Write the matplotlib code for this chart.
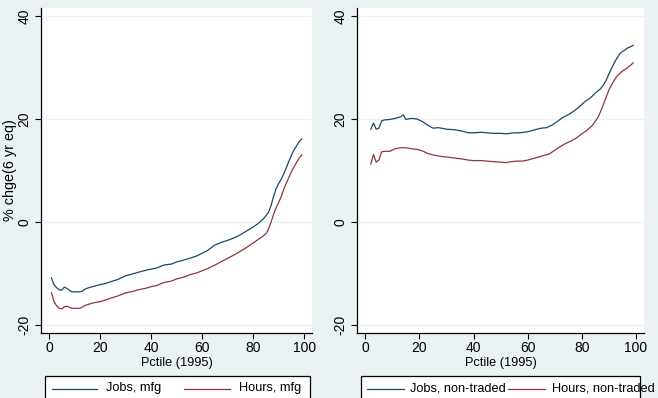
import matplotlib
matplotlib.use("Agg")
import matplotlib.pyplot as plt
from matplotlib.lines import Line2D
from matplotlib.patches import Rectangle

plt.rcParams['font.family'] = ['Liberation Sans', 'DejaVu Sans']

# ---------------- data ----------------
mfg_pct = [1, 2, 3, 4, 5, 6, 7, 8, 9, 10, 12, 13, 14, 15, 17, 20, 22, 25, 27, 30,
           33, 35, 38, 40, 42, 45, 48, 50, 53, 55, 58, 60, 62, 65, 68, 70, 73, 75,
           77, 80, 82, 84, 85, 86, 87, 88, 89, 90, 91, 92, 93, 94, 95, 96, 97, 98, 99]
jobs_mfg = [-10.9, -12.2, -12.8, -13.2, -13.3, -12.7, -12.9, -13.3, -13.6, -13.6,
            -13.6, -13.5, -13.1, -12.9, -12.6, -12.2, -12.0, -11.5, -11.2, -10.5,
            -10.1, -9.8, -9.4, -9.2, -9.0, -8.4, -8.2, -7.8, -7.4, -7.1, -6.6, -6.1,
            -5.6, -4.5, -3.9, -3.6, -3.0, -2.5, -1.9, -1.0, -0.3, 0.6, 1.2, 1.9, 3.2,
            5.0, 6.5, 7.5, 8.3, 9.4, 10.6, 11.8, 13.0, 14.0, 14.8, 15.6, 16.1]
hours_mfg = [-13.8, -15.5, -16.3, -16.8, -16.9, -16.5, -16.4, -16.6, -16.8, -16.8,
             -16.8, -16.6, -16.3, -16.1, -15.8, -15.5, -15.2, -14.7, -14.4, -13.8,
             -13.5, -13.2, -12.9, -12.6, -12.4, -11.8, -11.5, -11.1, -10.7, -10.3,
             -9.9, -9.5, -9.1, -8.4, -7.6, -7.1, -6.3, -5.7, -5.1, -4.1, -3.4, -2.7,
             -2.3, -1.4, 0.0, 1.5, 2.8, 3.8, 5.0, 6.4, 7.6, 8.7, 9.8, 10.7, 11.6,
             12.4, 13.0]

nt_pct = [2, 3, 4, 5, 6, 7, 9, 11, 13, 14, 15, 17, 19, 21, 23, 25, 27, 30, 33, 36,
          38, 40, 43, 45, 47, 50, 52, 55, 57, 60, 62, 65, 67, 69, 71, 73, 75, 77,
          79, 81, 83, 85, 87, 88, 89, 90, 91, 92, 93, 94, 95, 96, 97, 98, 99]
jobs_nt = [18.0, 19.2, 18.0, 18.2, 19.6, 19.8, 19.9, 20.1, 20.4, 20.8, 19.9, 20.1,
           20.0, 19.5, 18.8, 18.2, 18.3, 18.0, 17.9, 17.6, 17.3, 17.3, 17.4, 17.3,
           17.2, 17.2, 17.1, 17.3, 17.3, 17.5, 17.8, 18.2, 18.3, 18.8, 19.5, 20.3,
           20.8, 21.5, 22.3, 23.3, 24.0, 25.0, 25.9, 26.6, 27.5, 28.7, 29.8, 30.9,
           31.8, 32.6, 33.1, 33.4, 33.8, 34.0, 34.3]
hours_nt_pct = [2, 3, 4, 5, 6, 7, 9, 11, 13, 15, 17, 19, 21, 23, 25, 27, 30, 33, 36,
                38, 40, 43, 45, 47, 50, 52, 54, 56, 58, 60, 62, 64, 66, 68, 70, 72,
                74, 76, 78, 80, 82, 84, 86, 87, 88, 89, 90, 91, 92, 93, 94, 95, 96,
                97, 98, 99]
hours_nt = [11.2, 13.1, 11.6, 12.0, 13.6, 13.7, 13.7, 14.2, 14.4, 14.4, 14.2, 14.1,
            13.8, 13.3, 13.0, 12.8, 12.6, 12.4, 12.2, 12.0, 11.9, 11.9, 11.8, 11.7,
            11.6, 11.5, 11.7, 11.8, 11.8, 12.0, 12.3, 12.6, 12.9, 13.2, 13.9, 14.6,
            15.2, 15.7, 16.3, 17.1, 17.8, 18.8, 20.3, 21.5, 22.8, 24.2, 25.6, 26.6,
            27.5, 28.3, 28.8, 29.3, 29.6, 30.0, 30.4, 30.9]

x_ticks = [0, 20, 40, 60, 80, 100]
y_ticks = [-20, 0, 20, 40]
labels_left = ["Jobs, mfg", "Hours, mfg"]
labels_right = ["Jobs, non-traded", "Hours, non-traded"]

# ---------------- style ----------------
BG = "#EAF2F3"
NAVY = "#1A476F"
MAROON = "#90353B"
FS = 9.2
FS_TICK = 10.0
FS_YLAB = 10.4

W, H = 658, 398
fig = plt.figure(figsize=(W / 100, H / 100), dpi=100, facecolor=BG)


def fx(px):
    return px / W


def fy(py):
    return 1 - py / H


ax1 = fig.add_axes([fx(41), fy(333), fx(312) - fx(41), fy(8) - fy(333)])
ax2 = fig.add_axes([fx(357), fy(333), fx(644) - fx(357), fy(8) - fy(333)])

for ax in (ax1, ax2):
    ax.set_facecolor("white")
    ax.set_xlim(-3.1, 103.0)
    ax.set_ylim(-21.6, 41.55)
    ax.set_xticks(x_ticks)
    ax.set_yticks(y_ticks)
    ax.set_yticklabels([str(v) for v in y_ticks], rotation=90, va="center")
    ax.tick_params(axis="both", labelsize=FS_TICK, length=4, width=0.8,
                   color="black", direction="out", pad=2)
    ax.tick_params(axis="y", pad=3)
    for s in ("top", "right"):
        ax.spines[s].set_visible(False)
    for s in ("left", "bottom"):
        ax.spines[s].set_color("black")
        ax.spines[s].set_linewidth(0.9)
    for yv in y_ticks:
        ax.axhline(yv, color=BG, lw=1.0, zorder=0.5)
    ax.set_xlabel("Pctile (1995)", fontsize=FS, labelpad=1)

ax1.plot(mfg_pct, jobs_mfg, color=NAVY, lw=0.9)
ax1.plot(mfg_pct, hours_mfg, color=MAROON, lw=0.9)
ax2.plot(nt_pct, jobs_nt, color=NAVY, lw=0.9)
ax2.plot(hours_nt_pct, hours_nt, color=MAROON, lw=0.9)

ax1.set_ylabel("% chge(6 yr eq)", fontsize=FS_YLAB)
ax1.yaxis.set_label_coords((10.0 - 41) / 271, (333 - 170) / 325)
ax1.yaxis.label.set_va("center")

# ---------------- legends (Stata-style boxes below panels) ----------------
def legend_box(x0, x1, items):
    fig.patches.append(Rectangle((fx(x0), fy(402)), fx(x1) - fx(x0), fy(376) - fy(402),
                                 transform=fig.transFigure, facecolor="white",
                                 edgecolor="black", lw=0.9, zorder=1))
    for (hx0, hx1, tx, color, label) in items:
        fig.lines.append(Line2D([fx(hx0), fx(hx1)], [fy(388.5), fy(388.5)],
                                transform=fig.transFigure, color=color, lw=0.9,
                                zorder=2))
        fig.text(fx(tx), fy(388.5), label, fontsize=FS, va="center", ha="left",
                 zorder=3)


legend_box(45, 310, [(52, 97, 106, NAVY, labels_left[0]),
                     (184, 230, 239.5, MAROON, labels_left[1])])
legend_box(361, 640, [(367, 404, 410.5, NAVY, labels_right[0]),
                      (508, 545, 551.5, MAROON, labels_right[1])])

fig.savefig("out.png", dpi=100, facecolor=BG)
